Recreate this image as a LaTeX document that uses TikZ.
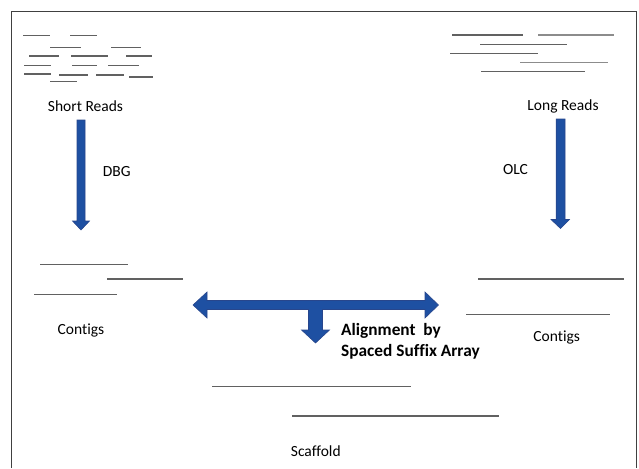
\documentclass[tikz,border=0pt]{standalone}
\usepackage{fontspec}
\setmainfont{Carlito}[Ligatures={NoCommon}]
\definecolor{arrowblue}{RGB}{30,80,162}
\definecolor{arrowedge}{RGB}{40,70,140}
\begin{document}
\begin{tikzpicture}[x=1pt,y=-1pt,
  readline/.style={draw=black!62, line width=1.1pt},
  lightread/.style={draw=black!45, line width=1.2pt},
  frameline/.style={draw=black!75, line width=0.9pt},
  blockarrow/.style={fill=arrowblue, draw=arrowedge, line width=0.6pt, line join=miter},
  lbl/.style={font=\fontsize{15.5}{18}\selectfont, inner sep=0pt},
  boldlbl/.style={font=\bfseries\fontsize{17.3}{20.5}\selectfont, inner sep=0pt, align=left, anchor=north west}]
\useasboundingbox (0,0) rectangle (639,468);

% frame (open at the bottom)
\draw[frameline] (11,468) -- (11,11) -- (636,11) -- (636,468);

% short reads
\foreach \xa/\xb/\y in {23/50/35.7, 70/97/35.7,
    50/81/47.3, 111/141/47.3,
    29/59/56, 71/108/56, 126/152/56,
    24/51/65.3, 72/97/65.3, 108/139/65.3,
    24/51/74, 59/88/75, 96/124/75, 129/153/77,
    50/77/81.7}
  \draw[readline] (\xa,\y) -- (\xb,\y);

% long reads
\draw[readline] (452,35) -- (523,35);
\draw[lightread] (538,35) -- (614,35);
\draw[readline] (480,44.3) -- (567,44.3);
\draw[readline] (450,53.7) -- (538,53.7);
\draw[lightread] (520,62.7) -- (608,62.7);
\draw[readline] (481,71.3) -- (585,71.3);

\node[lbl] (sr) at (85.5,106) {Short Reads};
\node[lbl] (lr) at (563,106.5) {Long Reads};

% DBG arrow
\coordinate (dbgtip) at (81,230);
\fill[blockarrow] (77,120) -- (85,120) -- (85,221) -- (89.5,221) -- (dbgtip)
  -- (72.5,221) -- (77,221) -- cycle;
\node[lbl] (dbg) at (116.8,171.5) {DBG};

% OLC arrow
\coordinate (olctip) at (560.5,228.5);
\fill[blockarrow] (556.2,119) -- (565,119) -- (565,219.5) -- (569.5,219.5) -- (olctip)
  -- (551,219.5) -- (556.2,219.5) -- cycle;
\node[lbl] (olc) at (515.5,170) {OLC};

% contigs, left
\draw[readline] (40,264.3) -- (128,264.3);
\draw[readline] (107,279) -- (183,279);
\draw[readline] (34,294.3) -- (117,294.3);
\node[lbl] (cl) at (81,330) {Contigs};

% contigs, right
\draw[readline] (478,279) -- (624,279);
\draw[readline] (466,314.3) -- (610,314.3);
\node[lbl] (cr) at (556.7,337) {Contigs};

% alignment arrow: double-headed with a downward branch
\coordinate (alL) at (193,305);
\coordinate (alR) at (438.5,305);
\coordinate (alD) at (315.5,343);
\fill[blockarrow] (alL) -- (207,292) -- (207,300.5) -- (425,300.5) -- (425,292) -- (alR)
  -- (425,318) -- (425,309.5) -- (322.5,309.5) -- (322.5,330) -- (329.5,330) -- (alD)
  -- (301.5,330) -- (308.5,330) -- (308.5,309.5) -- (207,309.5) -- (207,318) -- cycle;
\node[boldlbl] (al) at (341,323.5) {Alignment\ \ by\\Spaced Suffix Array};

% scaffold
\draw[readline] (212,386.7) -- (411,386.7);
\draw[readline] (292,416) -- (499,416);
\node[lbl] (sc) at (315.8,451) {Scaffold};
\end{tikzpicture}
\end{document}
